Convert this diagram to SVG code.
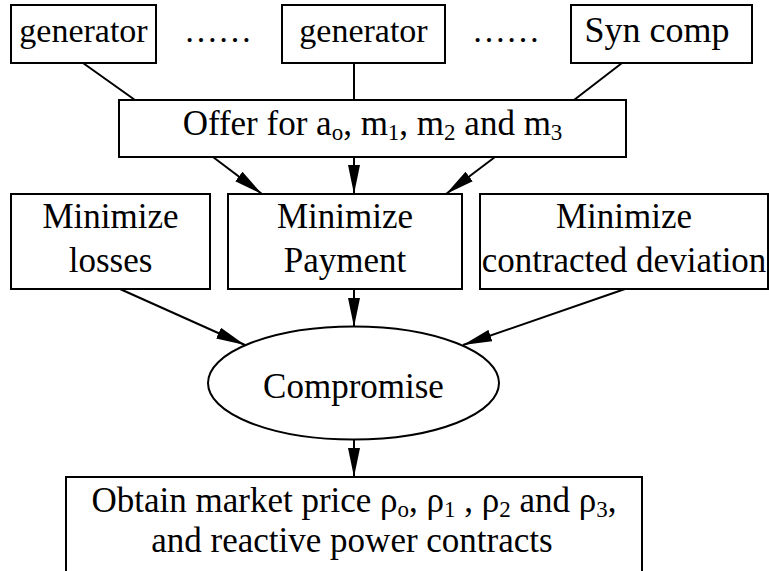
<svg xmlns="http://www.w3.org/2000/svg" width="769" height="571" viewBox="0 0 769 571">
<style>
.b{fill:#fff;stroke:#000;stroke-width:2}
.c{stroke:#000;stroke-width:2;fill:none}
</style>
<defs>
<marker id="ah" markerUnits="userSpaceOnUse" markerWidth="30" markerHeight="13" refX="29" refY="6.5" orient="auto">
<path d="M0,0.5 L29,6.5 L0,12.5 Z" fill="#000"/>
</marker>
</defs>
<rect width="769" height="571" fill="#fff"/>
<g id="connectors">
<line class="c" x1="83" y1="63" x2="135" y2="100"/>
<line class="c" x1="354" y1="63" x2="354" y2="100"/>
<line class="c" x1="622" y1="63" x2="574" y2="100"/>
<line class="c" x1="213" y1="157" x2="262" y2="194" marker-end="url(#ah)"/>
<line class="c" x1="354" y1="157" x2="354" y2="194" marker-end="url(#ah)"/>
<line class="c" x1="495" y1="157" x2="446" y2="194" marker-end="url(#ah)"/>
<line class="c" x1="120" y1="289" x2="245" y2="345" marker-end="url(#ah)"/>
<line class="c" x1="354" y1="289" x2="354" y2="327" marker-end="url(#ah)"/>
<line class="c" x1="625" y1="289" x2="463" y2="345" marker-end="url(#ah)"/>
<line class="c" x1="354" y1="440" x2="354" y2="477" marker-end="url(#ah)"/>
</g>
<g font-family="Liberation Serif, Times New Roman, serif" text-anchor="middle" fill="#000">
<g id="gen1"><rect class="b" x="11" y="5" width="145" height="58"/><text x="83.5" y="42" font-size="34">generator</text></g>
<g id="dots1"><text x="218" y="42" font-size="34">……</text></g>
<g id="gen2"><rect class="b" x="282" y="5" width="163" height="58"/><text x="363.5" y="42" font-size="34">generator</text></g>
<g id="dots2"><text x="506" y="42" font-size="34">……</text></g>
<g id="syn"><rect class="b" x="571" y="5" width="181" height="58"/><text x="657" y="42" font-size="36">Syn comp</text></g>
<g id="offer"><rect class="b" x="119" y="100" width="507" height="57"/>
<text x="372.5" y="135" font-size="35">Offer for a<tspan font-size="23" dy="5">o</tspan><tspan dy="-5">, m</tspan><tspan font-size="23" dy="5">1</tspan><tspan dy="-5">, m</tspan><tspan font-size="23" dy="5">2</tspan><tspan dy="-5"> and m</tspan><tspan font-size="23" dy="5">3</tspan></text></g>
<g id="losses"><rect class="b" x="11" y="194" width="199" height="95"/>
<text x="110.5" y="228" font-size="35">Minimize</text><text x="110.5" y="272" font-size="35">losses</text></g>
<g id="payment"><rect class="b" x="228" y="194" width="234" height="95"/>
<text x="345" y="228" font-size="35">Minimize</text><text x="345" y="272" font-size="35">Payment</text></g>
<g id="deviation"><rect class="b" x="480" y="194" width="288" height="95"/>
<text x="624" y="228" font-size="35">Minimize</text><text x="624" y="272" font-size="35">contracted deviation</text></g>
<g id="compromise"><ellipse class="b" cx="353.5" cy="383" rx="145.5" ry="56.5"/>
<text x="353.5" y="398" font-size="35">Compromise</text></g>
<g id="result"><rect class="b" x="66" y="477" width="576" height="100"/>
<text x="354" y="512" font-size="35">Obtain market price ρ<tspan font-size="23" dy="5">o</tspan><tspan dy="-5">, ρ</tspan><tspan font-size="23" dy="5">1</tspan><tspan dy="-5"> , ρ</tspan><tspan font-size="23" dy="5">2</tspan><tspan dy="-5"> and ρ</tspan><tspan font-size="23" dy="5">3</tspan><tspan dy="-5">,</tspan></text>
<text x="352" y="552" font-size="35">and reactive power contracts</text></g>
</g>
</svg>
